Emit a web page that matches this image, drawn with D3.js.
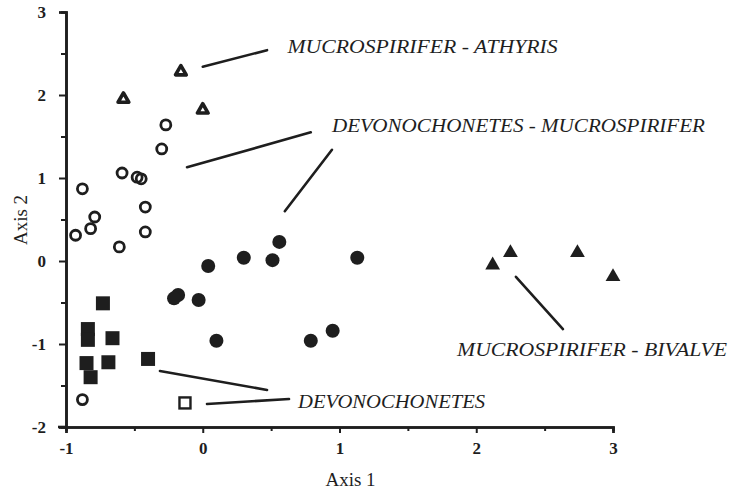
<!DOCTYPE html>
<html>
<head>
<meta charset="utf-8">
<script src="https://cdn.jsdelivr.net/npm/d3@7"></script>
<style>
  body { margin: 0; background: #fff; }
  text { fill: #1e1e1e; }
</style>
</head>
<body>
<script>
// Data, [axis1, axis2]
var openTriangles = [[-0.16, 2.28], [-0.58, 1.95], [0.0, 1.82]];
var openCircles = [[-0.27, 1.64], [-0.30, 1.35], [-0.59, 1.06], [-0.48, 1.01], [-0.45, 0.99],
  [-0.88, 0.87], [-0.79, 0.53], [-0.82, 0.39], [-0.93, 0.31], [-0.42, 0.65],
  [-0.42, 0.35], [-0.61, 0.17], [-0.88, -1.67]];
var filledCircles = [[0.56, 0.23], [0.30, 0.04], [0.51, 0.01], [1.13, 0.04], [0.04, -0.06],
  [-0.18, -0.41], [-0.21, -0.45], [-0.03, -0.47], [0.10, -0.96], [0.79, -0.96], [0.95, -0.84]];
var filledSquares = [[-0.73, -0.51], [-0.84, -0.82], [-0.84, -0.95], [-0.66, -0.93],
  [-0.85, -1.23], [-0.82, -1.40], [-0.69, -1.22], [-0.40, -1.18]];
var openSquares = [[-0.13, -1.71]];
var filledTriangles = [[2.12, -0.05], [2.25, 0.10], [2.74, 0.10], [3.0, -0.19]];

var xTicks = [-1, 0, 1, 2, 3];
var yTicks = [-2, -1, 0, 1, 2, 3];

// group labels: text position and leader lines in data units
var labelNames = ["MUCROSPIRIFER - ATHYRIS", "DEVONOCHONETES - MUCROSPIRIFER", "DEVONOCHONETES", "MUCROSPIRIFER - BIVALVE"];
var labelAt = [[0.62, 2.51], [0.945, 1.555], [0.697, -1.77], [1.86, -1.145]];
var labelWidth = [270, 373, 187, 270];
var leaders = [
  [[0.0, 2.34], [0.47, 2.54]],
  [[-0.115, 1.13], [0.79, 1.55]],
  [[0.945, 1.34], [0.60, 0.60]],
  [[-0.313, -1.325], [0.47, -1.554]],
  [[0.031, -1.723], [0.631, -1.663]],
  [[2.29, -0.19], [2.634, -0.82]]
];

var ink = "#1e1e1e";
var W = 744, H = 491;

var svg = d3.select("body").append("svg")
  .attr("width", W).attr("height", H);

var x = d3.scaleLinear().domain([-1, 3]).range([66, 613]);
var y = d3.scaleLinear().domain([-2, 3]).range([427, 12]);

var fmt = function (d) { return String(d); };

// axes
var gx = svg.append("g").attr("transform", "translate(0," + y(-2) + ")");
gx.call(d3.axisBottom(x).tickValues(xTicks).tickSize(6).tickPadding(9).tickFormat(fmt));
gx.append("g").call(d3.axisBottom(x).tickValues(d3.range(-0.5, 3, 1)).tickSize(4).tickFormat(""));

var gy = svg.append("g").attr("transform", "translate(" + x(-1) + ",0)");
gy.call(d3.axisLeft(y).tickValues(yTicks).tickSize(7).tickPadding(13).tickFormat(fmt));
gy.append("g").call(d3.axisLeft(y).tickValues(d3.range(-1.5, 3, 1)).tickSize(5).tickFormat(""));

svg.selectAll(".domain").attr("stroke", ink).attr("stroke-width", 2.6);
svg.selectAll(".tick line").attr("stroke", ink).attr("stroke-width", 2);
svg.selectAll(".tick text")
  .attr("font-family", "Liberation Serif, Times New Roman, serif")
  .attr("font-weight", "bold")
  .attr("font-size", 17)
  .attr("fill", ink);

// extend x axis a bit left, as in the original
svg.append("line")
  .attr("x1", x(-1) - 8).attr("x2", x(-1))
  .attr("y1", y(-2)).attr("y2", y(-2))
  .attr("stroke", ink).attr("stroke-width", 2.6);

// axis titles
svg.append("text")
  .attr("x", (x(-1) + x(3)) / 2 + 11).attr("y", 486)
  .attr("text-anchor", "middle")
  .attr("font-family", "Liberation Serif, Times New Roman, serif")
  .attr("font-size", 19)
  .text("Axis 1");

svg.append("text")
  .attr("transform", "translate(27," + 220 + ") rotate(-90)")
  .attr("text-anchor", "middle")
  .attr("font-family", "Liberation Serif, Times New Roman, serif")
  .attr("font-size", 19)
  .text("Axis 2");

// markers
var tri = d3.symbol().type(d3.symbolTriangle).size(95);

svg.append("g").selectAll("circle").data(filledCircles).enter().append("circle")
  .attr("cx", function (d) { return x(d[0]); })
  .attr("cy", function (d) { return y(d[1]); })
  .attr("r", 7).attr("fill", ink);

svg.append("g").selectAll("circle").data(openCircles).enter().append("circle")
  .attr("cx", function (d) { return x(d[0]); })
  .attr("cy", function (d) { return y(d[1]); })
  .attr("r", 5).attr("fill", "none").attr("stroke", ink).attr("stroke-width", 2.8);

svg.append("g").selectAll("rect").data(filledSquares).enter().append("rect")
  .attr("x", function (d) { return x(d[0]) - 7; })
  .attr("y", function (d) { return y(d[1]) - 7; })
  .attr("width", 14).attr("height", 14).attr("fill", ink);

svg.append("g").selectAll("rect").data(openSquares).enter().append("rect")
  .attr("x", function (d) { return x(d[0]) - 5.5; })
  .attr("y", function (d) { return y(d[1]) - 5.5; })
  .attr("width", 11).attr("height", 11)
  .attr("fill", "none").attr("stroke", ink).attr("stroke-width", 2.4);

svg.append("g").selectAll("path").data(filledTriangles).enter().append("path")
  .attr("transform", function (d) { return "translate(" + x(d[0]) + "," + y(d[1]) + ")"; })
  .attr("d", tri).attr("fill", ink);

svg.append("g").selectAll("path").data(openTriangles).enter().append("path")
  .attr("transform", function (d) { return "translate(" + x(d[0]) + "," + y(d[1]) + ")"; })
  .attr("d", d3.symbol().type(d3.symbolTriangle).size(50))
  .attr("fill", "none").attr("stroke", ink).attr("stroke-width", 3.6).attr("stroke-linejoin", "round");

// leader lines
svg.append("g").selectAll("line").data(leaders).enter().append("line")
  .attr("x1", function (d) { return x(d[0][0]); })
  .attr("y1", function (d) { return y(d[0][1]); })
  .attr("x2", function (d) { return x(d[1][0]); })
  .attr("y2", function (d) { return y(d[1][1]); })
  .attr("stroke", ink).attr("stroke-width", 2.6).attr("stroke-linecap", "round");

// group labels
svg.append("g").selectAll("text").data(labelNames).enter().append("text")
  .attr("x", function (d, i) { return x(labelAt[i][0]); })
  .attr("y", function (d, i) { return y(labelAt[i][1]); })
  .attr("textLength", function (d, i) { return labelWidth[i]; })
  .attr("lengthAdjust", "spacingAndGlyphs")
  .attr("font-family", "Liberation Serif, Times New Roman, serif")
  .attr("font-style", "italic")
  .attr("font-size", 19)
  .text(function (d) { return d; });
</script>
</body>
</html>
